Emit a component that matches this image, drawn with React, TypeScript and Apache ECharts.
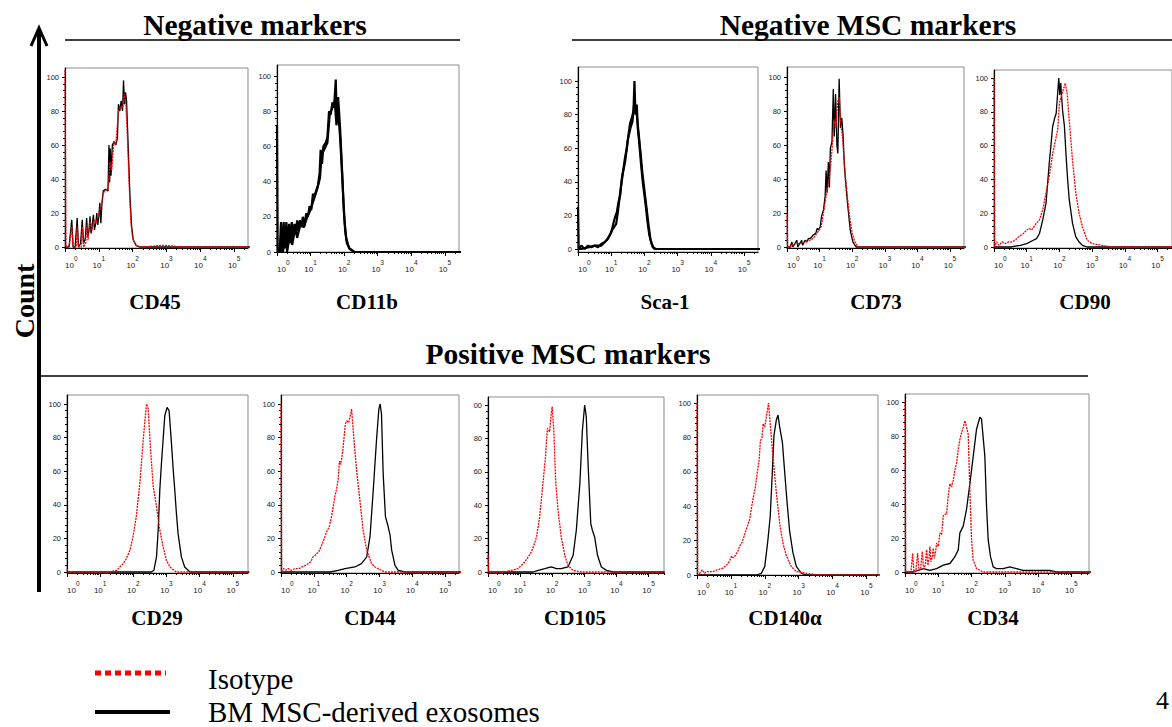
import React, { useEffect, useRef } from 'react';
import * as echarts from 'echarts';

const PANEL_NAMES = ['CD45', 'CD11b', 'Sca-1', 'CD73', 'CD90', 'CD29', 'CD44', 'CD105', 'CD140α', 'CD34'];
const GROUP_TITLES = ['Negative markers', 'Negative MSC markers', 'Positive MSC markers'];
const LEGEND_LABELS = ['Isotype', 'BM MSC-derived exosomes'];
const Y_AXIS_LABEL = 'Count';
const PAGE_MARK = '4';
const Y_TICKS = [0, 20, 40, 60, 80, 100];
const Y_MINOR_TICKS = [4, 8, 12, 16, 24, 28, 32, 36, 44, 48, 52, 56, 64, 68, 72, 76, 84, 88, 92, 96];
const X_DECADES = [0, 1, 2, 3, 4, 5];
const Y_TOP_LABELS = ['100', '100', '100', '100', '100', '100', '100', '00', '100', '100'];
// x = log10(fluorescence), y = % of max
const CD45_SAMPLE = [[0,0],[0.12,0],[0.2,16],[0.24,0],[0.3,0],[0.36,17],[0.4,0],[0.46,2],[0.51,16],[0.55,2],[0.6,5],[0.64,17],[0.67,6],[0.71,10],[0.74,18],[0.77,8],[0.8,12],[0.84,19],[0.87,10],[0.91,14],[0.94,20],[0.97,13],[1.0,18],[1.03,26],[1.06,14],[1.09,25],[1.13,33],[1.2,34],[1.27,33],[1.3,60],[1.32,38],[1.34,58],[1.36,42],[1.4,60],[1.45,62],[1.5,60],[1.55,64],[1.58,84],[1.62,80],[1.66,86],[1.7,80],[1.73,98],[1.76,84],[1.79,91],[1.82,86],[1.87,58],[1.92,30],[1.97,12],[2.02,4],[2.1,1],[2.2,0],[5.5,0]];
const CD45_ISOTYPE = [[0,104],[0.03,0],[0.12,0],[0.2,12],[0.24,0],[0.33,0],[0.36,12],[0.4,0],[0.48,0],[0.51,12],[0.55,0],[0.61,2],[0.64,13],[0.68,4],[0.74,15],[0.8,10],[0.86,16],[0.92,14],[0.98,18],[1.03,22],[1.08,24],[1.13,32],[1.2,33],[1.27,34],[1.33,50],[1.38,45],[1.45,62],[1.5,60],[1.58,80],[1.65,83],[1.7,82],[1.75,90],[1.8,84],[1.85,62],[1.9,35],[1.95,14],[2.0,5],[2.1,1],[2.25,0],[2.9,1],[3.5,0],[5.5,0]];
const CD11B_SAMPLE = [[0,72],[0.02,0],[0.08,0],[0.12,17],[0.15,0],[0.2,17],[0.23,2],[0.28,17],[0.31,3],[0.36,16],[0.39,5],[0.44,17],[0.47,8],[0.52,16],[0.56,10],[0.6,18],[0.64,12],[0.68,18],[0.72,14],[0.77,20],[0.82,15],[0.87,22],[0.92,20],[0.97,26],[1.02,24],[1.07,33],[1.12,32],[1.17,35],[1.22,38],[1.27,45],[1.3,58],[1.34,50],[1.38,60],[1.45,62],[1.5,65],[1.55,80],[1.6,78],[1.65,85],[1.7,82],[1.75,98],[1.78,75],[1.82,88],[1.88,70],[1.93,50],[1.98,28],[2.03,12],[2.08,5],[2.16,2],[2.3,0],[5.5,0]];
const CD11B_ISOTYPE = [[0,0],[0.1,0],[0.14,14],[0.18,0],[0.25,12],[0.3,0],[0.4,12],[0.45,4],[0.55,14],[0.6,8],[0.7,16],[0.8,14],[0.9,20],[1.0,24],[1.1,30],[1.2,36],[1.28,42],[1.33,55],[1.4,58],[1.5,62],[1.57,78],[1.65,82],[1.72,86],[1.77,72],[1.82,80],[1.88,65],[1.95,40],[2.0,20],[2.06,8],[2.15,2],[2.3,0],[5.5,0]];
const SCA1_SAMPLE = [[0,25],[0.02,0],[0.1,2],[0.2,0],[0.3,2],[0.4,1],[0.5,2],[0.6,1],[0.7,3],[0.8,4],[0.9,6],[1.0,10],[1.05,14],[1.1,18],[1.17,22],[1.22,28],[1.27,32],[1.32,42],[1.37,48],[1.42,55],[1.47,60],[1.52,68],[1.57,75],[1.62,78],[1.67,82],[1.7,100],[1.73,80],[1.77,86],[1.8,72],[1.85,62],[1.9,50],[1.95,40],[2.0,32],[2.05,24],[2.1,15],[2.15,8],[2.22,3],[2.3,0],[5.5,0]];
const SCA1_ISOTYPE = [[0,0],[0.1,0],[0.3,1],[0.5,2],[0.7,2],[0.85,5],[0.95,8],[1.05,12],[1.15,15],[1.2,22],[1.28,35],[1.35,45],[1.42,52],[1.5,65],[1.58,72],[1.64,76],[1.7,88],[1.76,82],[1.82,70],[1.88,58],[1.94,45],[2.0,35],[2.06,25],[2.12,15],[2.18,6],[2.25,1],[2.35,0],[5.5,0]];
const CD73_SAMPLE = [[0,0],[0.1,0],[0.15,3],[0.18,0],[0.3,4],[0.33,0],[0.45,4],[0.48,1],[0.55,4],[0.6,3],[0.66,5],[0.72,5],[0.8,7],[0.88,8],[0.93,11],[0.97,10],[1.02,12],[1.06,18],[1.12,22],[1.17,30],[1.2,45],[1.23,32],[1.27,50],[1.3,35],[1.33,58],[1.38,62],[1.42,93],[1.45,65],[1.49,90],[1.53,60],[1.56,55],[1.6,99],[1.64,70],[1.68,76],[1.72,66],[1.76,48],[1.8,38],[1.86,25],[1.94,10],[2.02,3],[2.12,0],[5.5,0]];
const CD73_ISOTYPE = [[0,20],[0.02,0],[0.1,0],[0.2,2],[0.4,2],[0.6,3],[0.8,5],[0.95,9],[1.05,12],[1.12,20],[1.2,30],[1.28,38],[1.35,50],[1.4,62],[1.45,75],[1.5,70],[1.55,85],[1.6,88],[1.65,72],[1.7,65],[1.75,52],[1.8,40],[1.86,28],[1.92,18],[2.0,8],[2.08,3],[2.18,0],[5.5,0]];
const CD90_SAMPLE = [[0,0],[0.5,0],[0.8,1],[1.0,2],[1.2,4],[1.3,5],[1.39,8],[1.49,16],[1.59,26],[1.69,50],[1.74,60],[1.79,71],[1.85,76],[1.9,79],[1.95,92],[1.98,100],[2.01,90],[2.04,97],[2.07,88],[2.1,80],[2.15,72],[2.2,55],[2.25,40],[2.3,28],[2.4,14],[2.5,6],[2.6,3],[2.7,1],[2.85,0],[5.5,0]];
const CD90_ISOTYPE = [[0,100],[0.02,0],[0.08,3],[0.15,1],[0.25,3],[0.35,2],[0.45,3],[0.55,3],[0.65,4],[0.75,6],[0.9,8],[1.0,10],[1.08,11],[1.15,10],[1.29,14],[1.39,16],[1.49,22],[1.59,32],[1.69,42],[1.79,55],[1.9,65],[1.95,70],[2.0,85],[2.05,89],[2.1,92],[2.18,97],[2.24,90],[2.3,75],[2.4,51],[2.5,32],[2.6,20],[2.7,12],[2.85,4],[3.0,2],[3.3,1],[3.6,0],[5.5,0]];
const CD29_SAMPLE = [[0,0],[2.55,0],[2.62,1],[2.7,9],[2.75,25],[2.8,49],[2.85,65],[2.9,79],[2.95,93],[3.02,98],[3.08,96],[3.15,77],[3.2,62],[3.25,49],[3.3,35],[3.35,23],[3.45,9],[3.55,3],[3.71,0],[5.5,0]];
const CD29_ISOTYPE = [[0,2],[0.02,0],[1.3,0],[1.5,1],[1.59,3],[1.7,5],[1.79,8],[1.9,13],[1.99,21],[2.09,33],[2.2,53],[2.3,79],[2.36,92],[2.4,100],[2.45,97],[2.52,73],[2.6,51],[2.7,39],[2.8,25],[2.9,15],[3.0,7],[3.1,3],[3.3,0],[5.5,0]];
const CD44_SAMPLE = [[0,0],[1.5,0],[1.74,1],[1.95,2],[2.25,3],[2.45,5],[2.61,9],[2.71,21],[2.81,49],[2.91,79],[2.98,97],[3.02,100],[3.06,94],[3.11,59],[3.18,33],[3.25,28],[3.32,22],[3.37,13],[3.47,4],[3.57,1],[3.77,0],[5.5,0]];
const CD44_ISOTYPE = [[0,100],[0.02,0],[0.08,2],[0.15,1],[0.22,2],[0.3,1],[0.43,2],[0.55,2],[0.63,3],[0.75,4],[0.83,5],[0.9,6],[0.98,9],[1.05,10],[1.09,11],[1.15,12],[1.24,16],[1.32,20],[1.39,24],[1.47,27],[1.54,33],[1.6,40],[1.64,45],[1.7,50],[1.74,55],[1.78,66],[1.82,64],[1.88,72],[1.92,80],[1.96,88],[2.0,90],[2.06,89],[2.12,94],[2.15,97],[2.2,84],[2.25,72],[2.3,61],[2.4,43],[2.5,25],[2.61,13],[2.7,8],[2.76,5],[2.86,3],[2.96,2],[3.16,0],[5.5,0]];
const CD105_SAMPLE = [[0,0],[1.4,0],[1.56,1],[1.77,2],[1.97,3],[2.13,2],[2.28,2],[2.49,3],[2.65,10],[2.75,25],[2.86,53],[2.94,85],[3.01,100],[3.06,93],[3.12,63],[3.2,29],[3.25,25],[3.32,21],[3.41,10],[3.53,3],[3.69,1],[3.9,0],[5.5,0]];
const CD105_ISOTYPE = [[0,10],[0.02,0],[0.52,0],[0.73,1],[0.93,2],[1.04,4],[1.14,6],[1.25,9],[1.35,12],[1.43,16],[1.51,21],[1.56,27],[1.61,33],[1.66,43],[1.71,53],[1.75,61],[1.79,69],[1.82,78],[1.85,86],[1.88,85],[1.92,84],[1.97,95],[2.0,99],[2.03,90],[2.05,85],[2.08,68],[2.11,53],[2.18,37],[2.28,21],[2.39,10],[2.49,4],[2.65,1],[2.91,0],[5.5,0]];
const CD140A_SAMPLE = [[0,0],[1.75,0],[1.9,1],[2.0,5],[2.09,20],[2.16,34],[2.22,59],[2.27,81],[2.34,90],[2.39,93],[2.44,86],[2.52,77],[2.59,59],[2.65,44],[2.73,26],[2.83,13],[2.93,5],[3.08,1],[3.23,0],[5.5,0]];
const CD140A_ISOTYPE = [[0,100],[0.02,0],[0.08,1],[0.15,3],[0.22,1],[0.28,2],[0.38,2],[0.47,2],[0.6,3],[0.77,4],[0.88,6],[0.96,8],[1.02,11],[1.06,10],[1.12,11],[1.21,14],[1.26,17],[1.31,18],[1.38,22],[1.46,27],[1.55,32],[1.6,38],[1.65,44],[1.72,51],[1.78,60],[1.83,66],[1.87,78],[1.92,80],[1.95,88],[2.0,86],[2.03,90],[2.06,94],[2.11,100],[2.16,88],[2.24,69],[2.34,48],[2.44,30],[2.54,18],[2.64,11],[2.78,5],[2.93,2],[3.23,1],[3.62,0],[5.5,0]];
const CD34_SAMPLE = [[0,0],[0.25,0],[0.55,2],[0.75,1],[0.95,2],[1.15,4],[1.35,5],[1.5,9],[1.6,13],[1.65,23],[1.75,27],[1.85,37],[1.95,52],[2.05,68],[2.15,84],[2.25,91],[2.3,90],[2.4,68],[2.45,39],[2.5,19],[2.57,9],[2.65,3],[2.75,2],[2.95,2],[3.15,3],[3.35,2],[3.55,1],[4.35,1],[4.55,0],[5.6,0]];
const CD34_ISOTYPE = [[0,100],[0.02,0],[0.18,0],[0.23,11],[0.27,0],[0.33,1],[0.38,11],[0.42,1],[0.47,2],[0.52,12],[0.56,2],[0.61,4],[0.65,13],[0.69,4],[0.72,8],[0.75,15],[0.78,6],[0.82,9],[0.85,14],[0.88,8],[0.92,12],[0.95,17],[1.0,15],[1.05,23],[1.1,22],[1.15,33],[1.2,34],[1.25,34],[1.3,45],[1.35,52],[1.4,50],[1.45,54],[1.5,60],[1.55,64],[1.6,72],[1.65,78],[1.7,82],[1.75,85],[1.8,89],[1.85,85],[1.9,81],[1.95,48],[2.0,19],[2.05,7],[2.15,2],[2.35,0],[5.6,0]];

const SAMPLE_DATA = [CD45_SAMPLE, CD11B_SAMPLE, SCA1_SAMPLE, CD73_SAMPLE, CD90_SAMPLE, CD29_SAMPLE, CD44_SAMPLE, CD105_SAMPLE, CD140A_SAMPLE, CD34_SAMPLE];
const ISOTYPE_DATA = [CD45_ISOTYPE, CD11B_ISOTYPE, SCA1_ISOTYPE, CD73_ISOTYPE, CD90_ISOTYPE, CD29_ISOTYPE, CD44_ISOTYPE, CD105_ISOTYPE, CD140A_ISOTYPE, CD34_ISOTYPE];

// layout (pixels)
const LAYOUT = [
  { left: 65, right: 248, top: 68, bottom: 248, y0: 247, y100: 77, xMax: 5.41, lx: 155, ly: 302, mono: false },
  { left: 277, right: 459, top: 65, bottom: 252, y0: 252, y100: 76, xMax: 5.42, lx: 367, ly: 302, mono: true },
  { left: 578, right: 758, top: 67, bottom: 252, y0: 249, y100: 81, xMax: 5.42, lx: 665, ly: 302, mono: true },
  { left: 787, right: 964, top: 67, bottom: 248, y0: 247, y100: 77, xMax: 5.43, lx: 876, ly: 302, mono: false },
  { left: 994, right: 1174, top: 70, bottom: 248, y0: 247, y100: 78, xMax: 5.44, lx: 1085, ly: 302, mono: false },
  { left: 67, right: 248, top: 395, bottom: 573, y0: 572, y100: 404, xMax: 5.46, lx: 157, ly: 618, mono: false },
  { left: 281, right: 459, top: 395, bottom: 573, y0: 572, y100: 404, xMax: 5.42, lx: 370, ly: 618, mono: false },
  { left: 488, right: 664, top: 397, bottom: 573, y0: 572, y100: 405, xMax: 5.48, lx: 575, ly: 618, mono: false },
  { left: 697, right: 878, top: 395, bottom: 575, y0: 575, y100: 403, xMax: 5.34, lx: 785, ly: 618, mono: false },
  { left: 905, right: 1089, top: 394, bottom: 573, y0: 572, y100: 402, xMax: 5.53, lx: 993, ly: 618, mono: false },
];

const SERIF = "'Liberation Serif', 'Times New Roman', serif";
const SANS = "'Liberation Sans', Arial, sans-serif";

function buildOption() {
  const grid: any[] = [];
  const xAxis: any[] = [];
  const yAxis: any[] = [];
  const series: any[] = [];
  LAYOUT.forEach((l, i) => {
    const ppu = (l.y0 - l.y100) / 100;
    const yMin = -(l.bottom - l.y0) / ppu;
    const yMax = (l.y0 - l.top) / ppu;
    const minorX: number[] = [];
    X_DECADES.forEach((d) => {
      for (let k = 2; k <= 9; k++) {
        const v = d + Math.log10(k);
        if (v < l.xMax) minorX.push(v);
      }
    });
    grid.push({
      left: l.left, top: l.top, width: l.right - l.left, height: l.bottom - l.top,
      show: true, borderColor: '#8c8c8c', borderWidth: 1, backgroundColor: 'transparent',
    });
    xAxis.push({
      type: 'value', gridIndex: i, position: 'bottom', min: 0, max: l.xMax,
      axisLine: { show: true, onZero: false, lineStyle: { color: '#000', width: 1.2 } },
      splitLine: { show: false },
      axisTick: { show: true, customValues: X_DECADES.filter((v) => v <= l.xMax), length: 4, lineStyle: { color: '#000', width: 1 } },
      axisLabel: {
        show: true, customValues: X_DECADES, margin: 7, alignMinLabel: 'left',
        formatter: (v: number) => `{b|10}{s|${Math.round(v)}}`,
        rich: {
          b: { fontSize: 8, fontFamily: SANS, color: '#222', lineHeight: 14, verticalAlign: 'bottom' },
          s: { fontSize: 6.5, fontFamily: SANS, color: '#222', lineHeight: 14, verticalAlign: 'top' },
        },
      },
    });
    xAxis.push({
      type: 'value', gridIndex: i, position: 'bottom', min: 0, max: l.xMax,
      axisLine: { show: false, onZero: false },
      splitLine: { show: false },
      axisTick: { show: true, customValues: minorX, length: 2, lineStyle: { color: '#000', width: 1 } },
      axisLabel: { show: false },
    });
    yAxis.push({
      type: 'value', gridIndex: i, position: 'left', min: yMin, max: yMax,
      axisLine: { show: true, onZero: false, lineStyle: { color: '#000', width: 1.2 } },
      splitLine: { show: false },
      axisTick: { show: true, customValues: Y_TICKS, length: 3, lineStyle: { color: '#000', width: 1 } },
      axisLabel: {
        show: true, customValues: Y_TICKS, margin: 6, fontSize: 7.5, fontFamily: SANS, color: '#222',
        formatter: (v: number) => (Math.round(v) === 100 ? Y_TOP_LABELS[i] : String(Math.round(v))),
      },
    });
    yAxis.push({
      type: 'value', gridIndex: i, position: 'left', min: yMin, max: yMax,
      axisLine: { show: false, onZero: false },
      splitLine: { show: false },
      axisTick: { show: true, customValues: Y_MINOR_TICKS, length: 2, lineStyle: { color: '#000', width: 1 } },
      axisLabel: { show: false },
    });
    series.push({
      type: 'line', xAxisIndex: 2 * i, yAxisIndex: 2 * i, data: SAMPLE_DATA[i],
      symbol: 'none', silent: true, clip: true,
      lineStyle: { color: '#000', width: l.mono ? 2.2 : 1.3 },
    });
    series.push({
      type: 'line', xAxisIndex: 2 * i, yAxisIndex: 2 * i, data: ISOTYPE_DATA[i],
      symbol: 'none', silent: true, clip: true,
      lineStyle: l.mono ? { color: '#000', width: 2.2 } : { color: '#ff0000', width: 1.3, type: [2, 1] },
    });
  });

  const graphic: any[] = [];
  const txt = (text: string, x: number, y: number, size: number, bold: boolean, align = 'center', rotation = 0) => ({
    type: 'text', x, y, rotation, silent: true,
    style: {
      text, fill: '#000', font: `${bold ? 'bold ' : ''}${size}px ${SERIF}`,
      textAlign: align, textVerticalAlign: 'middle',
    },
  });
  const line = (x1: number, y1: number, x2: number, y2: number, w: number, color = '#000', dash?: number[]) => ({
    type: 'line', silent: true, shape: { x1, y1, x2, y2 },
    style: { stroke: color, lineWidth: w, lineDash: dash },
  });
  graphic.push(txt(GROUP_TITLES[0], 255, 25, 29.5, true));
  graphic.push(txt(GROUP_TITLES[1], 868, 25, 29.5, true));
  graphic.push(txt(GROUP_TITLES[2], 568, 354, 29.5, true));
  graphic.push(line(65, 40, 460, 40, 1.5));
  graphic.push(line(572, 40, 1172, 40, 1.5));
  graphic.push(line(40, 376, 1088, 376, 1.5));
  LAYOUT.forEach((l, i) => graphic.push(txt(PANEL_NAMES[i], l.lx, l.ly, 21, true)));
  graphic.push(txt(Y_AXIS_LABEL, 24, 301, 28, true, 'center', Math.PI / 2));
  graphic.push(line(39, 592, 39, 30, 4));
  graphic.push({
    type: 'polyline', silent: true, shape: { points: [[31, 46], [39, 28], [47, 46]] },
    style: { stroke: '#000', lineWidth: 3, fill: null },
  });
  graphic.push(line(95, 673, 166, 673, 5, '#ff0000', [6, 4]));
  graphic.push(line(95, 712, 170, 712, 4));
  graphic.push(txt(LEGEND_LABELS[0], 208, 679, 29, false, 'left'));
  graphic.push(txt(LEGEND_LABELS[1], 208, 712, 29, false, 'left'));
  graphic.push(txt(PAGE_MARK, 1156, 700, 26, false, 'left'));

  return { animation: false, backgroundColor: '#fff', grid, xAxis, yAxis, series, graphic };
}

export default function App() {
  const ref = useRef<HTMLDivElement>(null);
  useEffect(() => {
    if (!ref.current) return;
    const chart = echarts.init(ref.current, null, { renderer: 'svg' });
    chart.setOption(buildOption() as any);
    return () => chart.dispose();
  }, []);
  return (
    <div
      ref={ref}
      style={{ position: 'absolute', left: 0, top: 0, width: 1172, height: 727, background: '#fff' }}
    />
  );
}
